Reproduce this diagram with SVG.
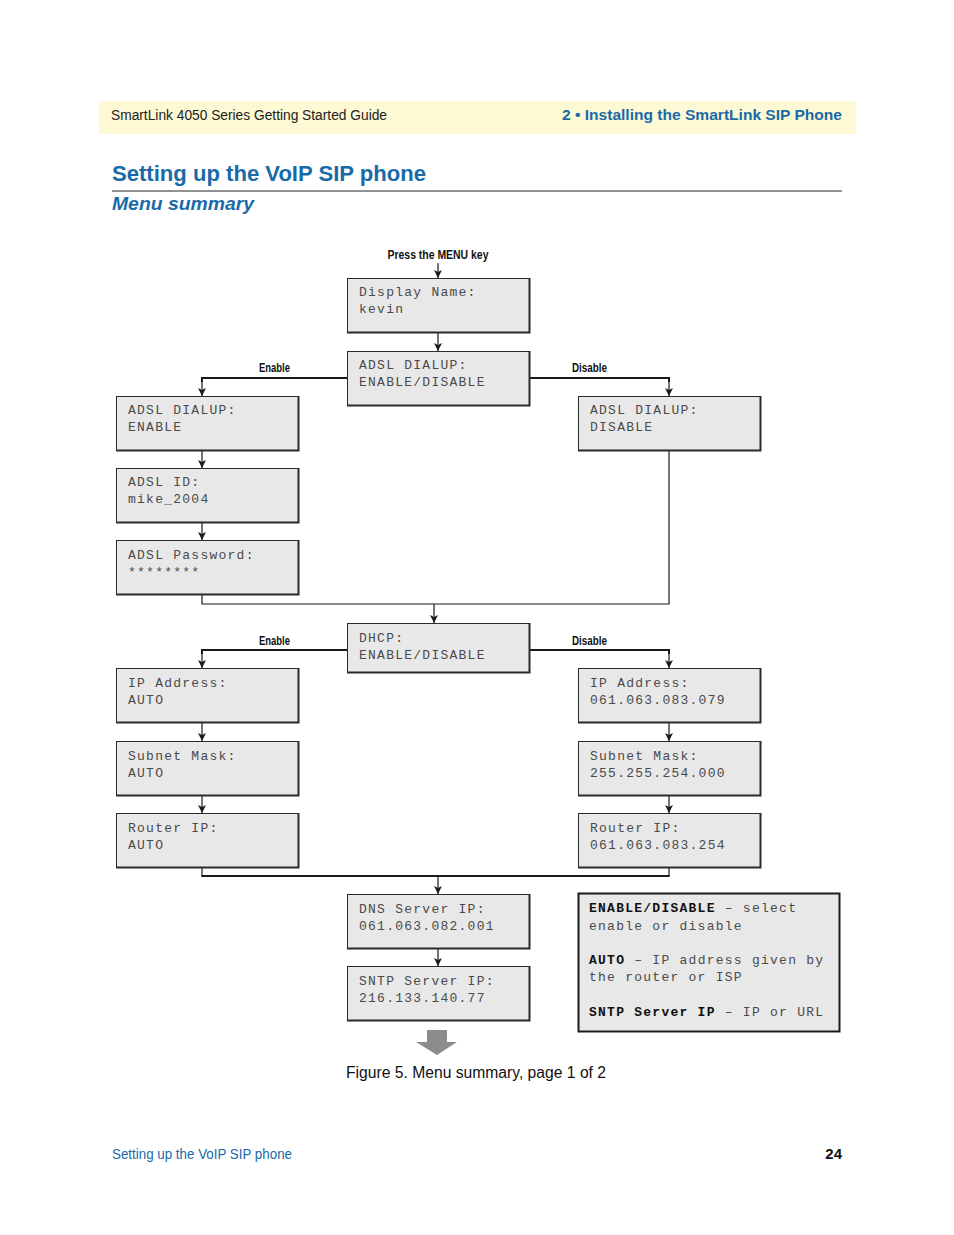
<svg xmlns="http://www.w3.org/2000/svg" width="954" height="1235" viewBox="0 0 954 1235">
<defs>
<marker id="ah" viewBox="0 0 8 10" refX="8" refY="5" markerWidth="8" markerHeight="10" orient="auto" markerUnits="userSpaceOnUse">
<path d="M0,1 L8,5 L0,9 L2,5 Z" fill="#1a1a1a"/>
</marker>
</defs>
<style>
.box{fill:#e8e8e8;stroke:#2a2a2a;stroke-width:1}
.sh{fill:none;stroke:#2a2a2a;stroke-width:2}
.mono{font-family:"Liberation Mono","DejaVu Sans Mono",monospace;font-size:13px;fill:#4a4a4a;letter-spacing:1.25px}
.monob{font-family:"Liberation Mono","DejaVu Sans Mono",monospace;font-size:13px;fill:#111;font-weight:bold;letter-spacing:1.25px}
.lbl{font-family:"Liberation Sans","DejaVu Sans",sans-serif;font-size:12px;font-weight:bold;fill:#111}
.ln{fill:none;stroke:#1a1a1a;stroke-width:1.2}
.lnt{fill:none;stroke:#1a1a1a;stroke-width:2}
.blue{fill:#1a6aa8}
</style>
<rect x="0" y="0" width="954" height="1235" fill="#ffffff"/>
<g id="header">
<rect x="99" y="101" width="757" height="33" fill="#fcf9d4"/>
<text x="111" y="120" font-family="Liberation Sans, sans-serif" font-size="14" fill="#222" textLength="276" lengthAdjust="spacingAndGlyphs">SmartLink 4050 Series Getting Started Guide</text>
<text x="842" y="120" text-anchor="end" font-family="Liberation Sans, sans-serif" font-size="14" font-weight="bold" class="blue" textLength="280" lengthAdjust="spacingAndGlyphs">2 • Installing the SmartLink SIP Phone</text>
<text x="112" y="181" font-family="Liberation Sans, sans-serif" font-size="22" font-weight="bold" class="blue" textLength="314" lengthAdjust="spacingAndGlyphs">Setting up the VoIP SIP phone</text>
<line x1="112" y1="191" x2="842" y2="191" stroke="#222" stroke-width="1"/>
<text x="112" y="210" font-family="Liberation Sans, sans-serif" font-size="18" font-weight="bold" font-style="italic" class="blue" textLength="142" lengthAdjust="spacingAndGlyphs">Menu summary</text>
</g>
<g id="connectors">
<text class="lbl" x="438" y="259" text-anchor="middle" textLength="101" lengthAdjust="spacingAndGlyphs">Press the MENU key</text>
<line class="ln" x1="438" y1="263" x2="438" y2="278" marker-end="url(#ah)"/>
<line class="ln" x1="438" y1="332" x2="438" y2="351" marker-end="url(#ah)"/>
<polyline class="lnt" points="347,378 202,378 202,382"/>
<line class="ln" x1="202" y1="380" x2="202" y2="396" marker-end="url(#ah)"/>
<text class="lbl" x="259" y="372" textLength="31" lengthAdjust="spacingAndGlyphs">Enable</text>
<polyline class="lnt" points="529,378 669,378 669,382"/>
<line class="ln" x1="669" y1="380" x2="669" y2="396" marker-end="url(#ah)"/>
<text class="lbl" x="572" y="372" textLength="35" lengthAdjust="spacingAndGlyphs">Disable</text>
<line class="ln" x1="202" y1="450" x2="202" y2="468" marker-end="url(#ah)"/>
<line class="ln" x1="202" y1="522" x2="202" y2="540" marker-end="url(#ah)"/>
<polyline class="ln" points="202,595 202,604 669,604 669,450"/>
<line class="ln" x1="434" y1="604" x2="434" y2="623" marker-end="url(#ah)"/>
<polyline class="lnt" points="347,650 202,650 202,654"/>
<line class="ln" x1="202" y1="652" x2="202" y2="668" marker-end="url(#ah)"/>
<text class="lbl" x="259" y="645" textLength="31" lengthAdjust="spacingAndGlyphs">Enable</text>
<polyline class="lnt" points="529,650 669,650 669,654"/>
<line class="ln" x1="669" y1="652" x2="669" y2="668" marker-end="url(#ah)"/>
<text class="lbl" x="572" y="645" textLength="35" lengthAdjust="spacingAndGlyphs">Disable</text>
<line class="ln" x1="202" y1="723" x2="202" y2="741" marker-end="url(#ah)"/>
<line class="ln" x1="202" y1="795" x2="202" y2="813" marker-end="url(#ah)"/>
<line class="ln" x1="669" y1="723" x2="669" y2="741" marker-end="url(#ah)"/>
<line class="ln" x1="669" y1="795" x2="669" y2="813" marker-end="url(#ah)"/>
<polyline class="ln" points="202,868 202,876"/>
<polyline class="ln" points="669,868 669,876"/>
<line class="lnt" x1="201.4" y1="876" x2="669.6" y2="876"/>
<line class="ln" x1="438" y1="876" x2="438" y2="894" marker-end="url(#ah)"/>
<line class="ln" x1="438" y1="948" x2="438" y2="966" marker-end="url(#ah)"/>
<path d="M427,1030 H447 V1042 H457 L437,1055 L416,1042 H427 Z" fill="#8c8c8c"/>
</g>
<g id="n-display">
<rect class="box" x="347.5" y="278.5" width="182" height="54"/>
<polyline class="sh" points="529.5,278 529.5,332.5 347,332.5"/>
<text class="mono" x="359" y="296">Display Name:</text>
<text class="mono" x="359" y="313">kevin</text>
</g>
<g id="n-adsl">
<rect class="box" x="347.5" y="351.5" width="182" height="54"/>
<polyline class="sh" points="529.5,351 529.5,405.5 347,405.5"/>
<text class="mono" x="359" y="369">ADSL DIALUP:</text>
<text class="mono" x="359" y="386">ENABLE/DISABLE</text>
</g>
<g id="n-adsl-enable">
<rect class="box" x="116.5" y="396.5" width="182" height="54"/>
<polyline class="sh" points="298.5,396 298.5,450.5 116,450.5"/>
<text class="mono" x="128" y="414">ADSL DIALUP:</text>
<text class="mono" x="128" y="431">ENABLE</text>
</g>
<g id="n-adsl-id">
<rect class="box" x="116.5" y="468.5" width="182" height="54"/>
<polyline class="sh" points="298.5,468 298.5,522.5 116,522.5"/>
<text class="mono" x="128" y="486">ADSL ID:</text>
<text class="mono" x="128" y="503">mike_2004</text>
</g>
<g id="n-adsl-pw">
<rect class="box" x="116.5" y="540.5" width="182" height="54"/>
<polyline class="sh" points="298.5,540 298.5,594.5 116,594.5"/>
<text class="mono" x="128" y="559">ADSL Password:</text>
<text class="mono" x="128" y="576" font-size="10">********</text>
</g>
<g id="n-adsl-disable">
<rect class="box" x="578.5" y="396.5" width="182" height="54"/>
<polyline class="sh" points="760.5,396 760.5,450.5 578,450.5"/>
<text class="mono" x="590" y="414">ADSL DIALUP:</text>
<text class="mono" x="590" y="431">DISABLE</text>
</g>
<g id="n-dhcp">
<rect class="box" x="347.5" y="623.5" width="182" height="49"/>
<polyline class="sh" points="529.5,623 529.5,672.5 347,672.5"/>
<text class="mono" x="359" y="642">DHCP:</text>
<text class="mono" x="359" y="659">ENABLE/DISABLE</text>
</g>
<g id="n-ip-auto">
<rect class="box" x="116.5" y="668.5" width="182" height="54"/>
<polyline class="sh" points="298.5,668 298.5,722.5 116,722.5"/>
<text class="mono" x="128" y="687">IP Address:</text>
<text class="mono" x="128" y="704">AUTO</text>
</g>
<g id="n-subnet-auto">
<rect class="box" x="116.5" y="741.5" width="182" height="54"/>
<polyline class="sh" points="298.5,741 298.5,795.5 116,795.5"/>
<text class="mono" x="128" y="760">Subnet Mask:</text>
<text class="mono" x="128" y="777">AUTO</text>
</g>
<g id="n-router-auto">
<rect class="box" x="116.5" y="813.5" width="182" height="54"/>
<polyline class="sh" points="298.5,813 298.5,867.5 116,867.5"/>
<text class="mono" x="128" y="832">Router IP:</text>
<text class="mono" x="128" y="849">AUTO</text>
</g>
<g id="n-ip-static">
<rect class="box" x="578.5" y="668.5" width="182" height="54"/>
<polyline class="sh" points="760.5,668 760.5,722.5 578,722.5"/>
<text class="mono" x="590" y="687">IP Address:</text>
<text class="mono" x="590" y="704">061.063.083.079</text>
</g>
<g id="n-subnet-static">
<rect class="box" x="578.5" y="741.5" width="182" height="54"/>
<polyline class="sh" points="760.5,741 760.5,795.5 578,795.5"/>
<text class="mono" x="590" y="760">Subnet Mask:</text>
<text class="mono" x="590" y="777">255.255.254.000</text>
</g>
<g id="n-router-static">
<rect class="box" x="578.5" y="813.5" width="182" height="54"/>
<polyline class="sh" points="760.5,813 760.5,867.5 578,867.5"/>
<text class="mono" x="590" y="832">Router IP:</text>
<text class="mono" x="590" y="849">061.063.083.254</text>
</g>
<g id="n-dns">
<rect class="box" x="347.5" y="894.5" width="182" height="54"/>
<polyline class="sh" points="529.5,894 529.5,948.5 347,948.5"/>
<text class="mono" x="359" y="913">DNS Server IP:</text>
<text class="mono" x="359" y="930">061.063.082.001</text>
</g>
<g id="n-sntp">
<rect class="box" x="347.5" y="966.5" width="182" height="54"/>
<polyline class="sh" points="529.5,966 529.5,1020.5 347,1020.5"/>
<text class="mono" x="359" y="985">SNTP Server IP:</text>
<text class="mono" x="359" y="1002">216.133.140.77</text>
</g>
<g id="legend">
<rect x="578.5" y="893.5" width="261" height="138" fill="#e8e8e8" stroke="#1a1a1a" stroke-width="2"/>
<text class="mono" x="589" y="912"><tspan class="monob">ENABLE/DISABLE</tspan> – select</text>
<text class="mono" x="589" y="930">enable or disable</text>
<text class="mono" x="589" y="964"><tspan class="monob">AUTO</tspan> – IP address given by</text>
<text class="mono" x="589" y="981">the router or ISP</text>
<text class="mono" x="589" y="1016"><tspan class="monob">SNTP Server IP</tspan> – IP or URL</text>
</g>
<g id="caption">
<text x="476" y="1078" text-anchor="middle" font-family="Liberation Sans, sans-serif" font-size="16" fill="#111" textLength="260" lengthAdjust="spacingAndGlyphs">Figure 5. Menu summary, page 1 of 2</text>
</g>
<g id="footer">
<text x="112" y="1159" font-family="Liberation Sans, sans-serif" font-size="14" class="blue" textLength="180" lengthAdjust="spacingAndGlyphs">Setting up the VoIP SIP phone</text>
<text x="842" y="1159" text-anchor="end" font-family="Liberation Sans, sans-serif" font-size="15" font-weight="bold" fill="#111">24</text>
</g>
</svg>
